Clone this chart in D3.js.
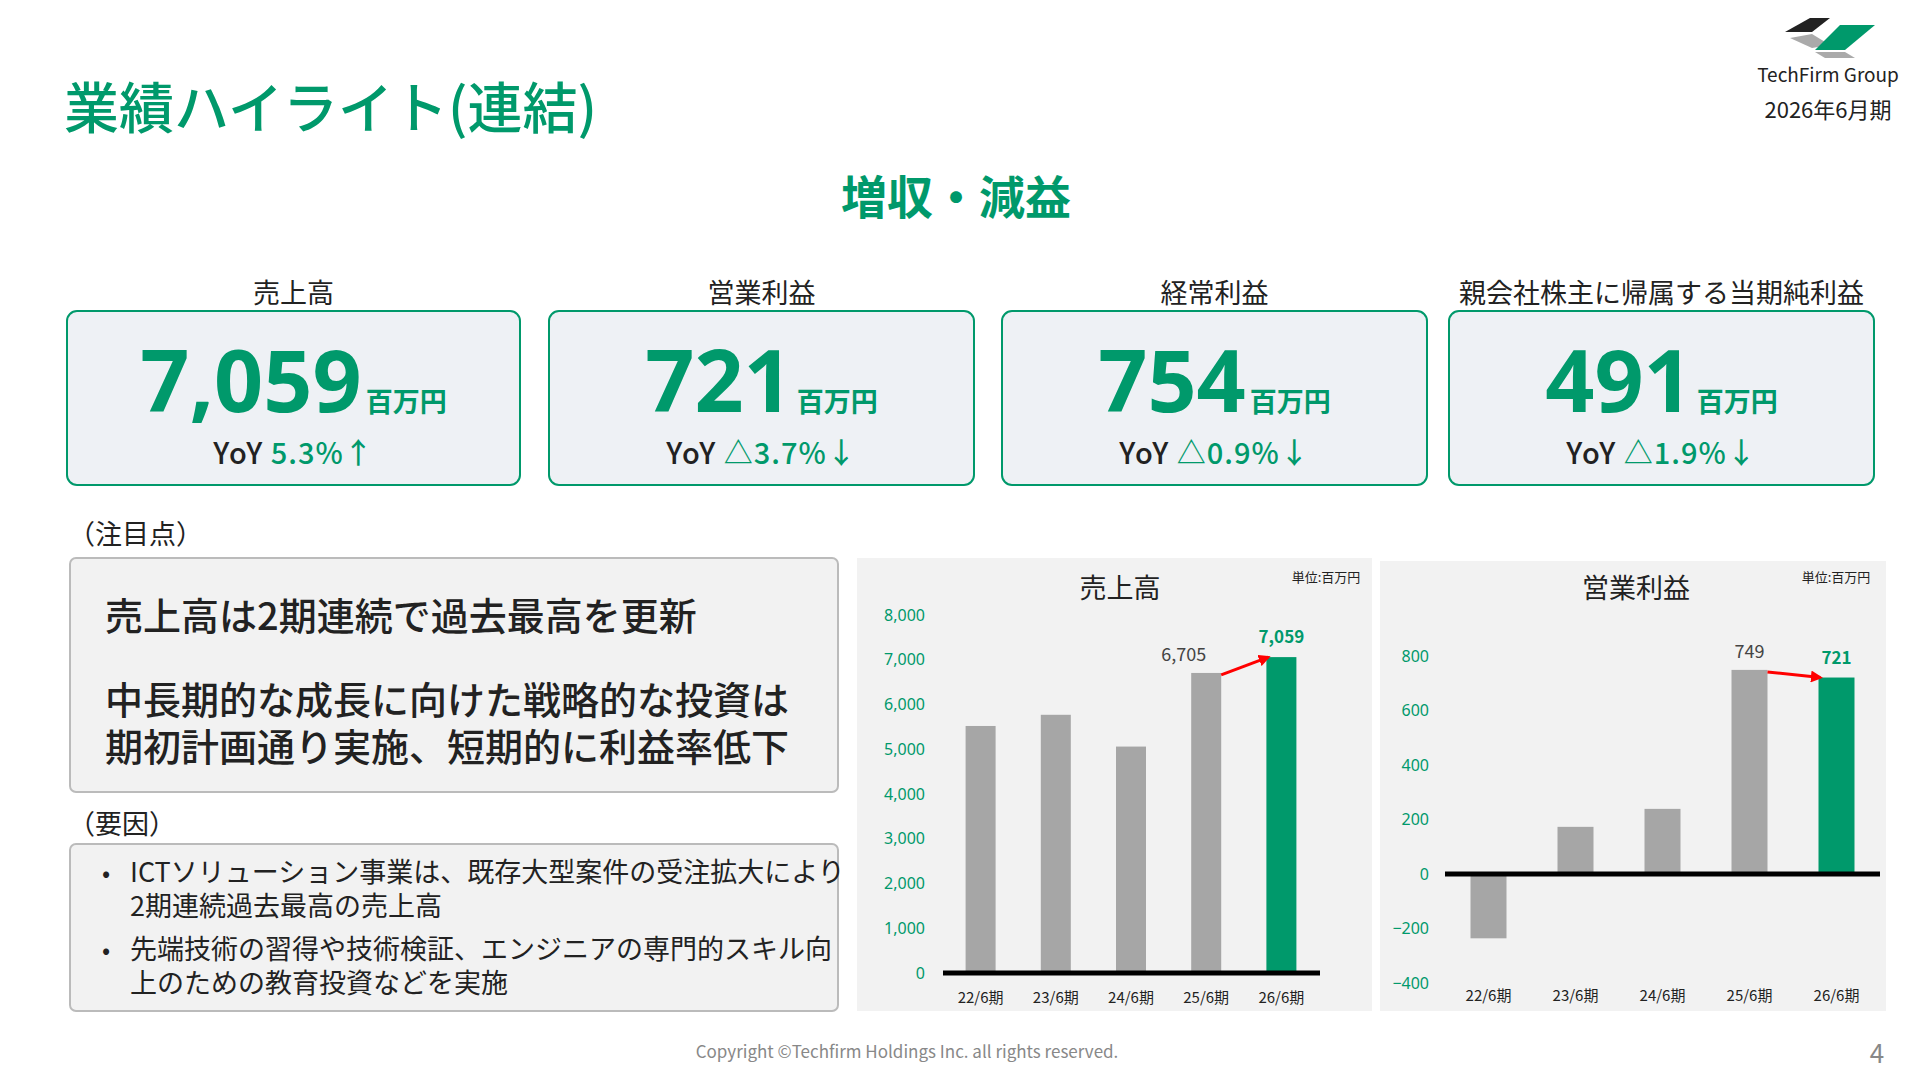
<!DOCTYPE html>
<html><head><meta charset="utf-8">
<script src="https://cdn.jsdelivr.net/npm/d3@7"></script>
<style>body{margin:0;background:#fff}svg{font-family:"Noto Sans CJK JP","Noto Sans",sans-serif}</style>
</head><body>
<svg id="c" width="1920" height="1080"></svg>
<script>
// data
const periods = ["22/6期", "23/6期", "24/6期", "25/6期", "26/6期"];
const sales = [5520, 5770, 5060, 6705, 7059];
const opProfit = [-236, 173, 239, 749, 721];
const salesTicks = [0, 1000, 2000, 3000, 4000, 5000, 6000, 7000, 8000];
const opTicks = [-400, -200, 0, 200, 400, 600, 800];
const kpiLabels = ["売上高", "営業利益", "経常利益", "親会社株主に帰属する当期純利益"];
const kpiValues = ["7,059", "721", "754", "491"];
const kpiYoY = ["5.3%↑", "△3.7%↓", "△0.9%↓", "△1.9%↓"];
const points = ["売上高は2期連続で過去最高を更新", "", "中長期的な成長に向けた戦略的な投資は", "期初計画通り実施、短期的に利益率低下"];
const factors = [["ICTソリューション事業は、既存大型案件の受注拡大により", "2期連続過去最高の売上高"], ["先端技術の習得や技術検証、エンジニアの専門的スキル向", "上のための教育投資などを実施"]];

const G = "#00996b", svg = d3.select("#c");

svg.append("text").attr("x", 64).attr("y", 128).attr("font-size", 55).attr("font-weight", 500)
  .attr("fill", G).text("業績ハイライト(連結)");
// logo
svg.append("path").attr("d", "M1810,18 L1830,18 L1812,32 L1785,32 Z").attr("fill", "#222");
svg.append("path").attr("d", "M1790,38 L1812,34 L1830,45 L1812,48 Z").attr("fill", "#aaa");
svg.append("path").attr("d", "M1840,25 L1875,25 L1845,50 L1815,50 Z").attr("fill", G);
svg.append("path").attr("d", "M1815,52 L1845,52 L1855,58 L1825,58 Z").attr("fill", "#aaa");
svg.append("text").attr("x", 1828).attr("y", 82).attr("text-anchor", "middle").attr("font-size", 19).attr("fill", "#222").text("TechFirm Group");
svg.append("text").attr("x", 1828).attr("y", 118).attr("text-anchor", "middle").attr("font-size", 22).attr("fill", "#222").text("2026年6月期");

svg.append("text").attr("x", 956).attr("y", 214).attr("text-anchor", "middle").attr("font-size", 46).attr("font-weight", 700).attr("fill", G).text("増収・減益");

// KPI boxes
const boxX = [67, 549, 1002, 1449], boxW = [453, 425, 425, 425];
kpiLabels.forEach((l, i) => {
  const cx = boxX[i] + boxW[i] / 2;
  svg.append("text").attr("x", cx).attr("y", 303).attr("text-anchor", "middle").attr("font-size", 27).attr("fill", "#222").text(l);
  svg.append("rect").attr("x", boxX[i]).attr("y", 311).attr("width", boxW[i]).attr("height", 174).attr("rx", 10)
    .attr("fill", "#eef1f5").attr("stroke", G).attr("stroke-width", 2);
  const t = svg.append("text").attr("x", cx).attr("y", 412).attr("text-anchor", "middle").attr("fill", G).attr("font-weight", 700);
  t.append("tspan").attr("font-size", 86).attr("font-family", "'Noto Sans',sans-serif").text(kpiValues[i]);
  t.append("tspan").attr("font-size", 27).attr("dx", 4).text("百万円");
  const y = svg.append("text").attr("x", cx).attr("y", 464).attr("text-anchor", "middle").attr("font-size", 29).attr("font-weight", 500).attr("letter-spacing", 1);
  y.append("tspan").attr("fill", "#222").text("YoY ");
  y.append("tspan").attr("fill", G).text(kpiYoY[i]);
});

// notes
svg.append("text").attr("x", 68).attr("y", 544).attr("font-size", 27).attr("fill", "#222").text("（注目点）");
svg.append("rect").attr("x", 70).attr("y", 558).attr("width", 768).attr("height", 234).attr("rx", 6).attr("fill", "#f2f2f2").attr("stroke", "#bbb").attr("stroke-width", 2);
[630, 0, 714, 761].forEach((y, i) => { if (points[i]) svg.append("text").attr("x", 105).attr("y", y).attr("font-size", 38).attr("font-weight", 500).attr("fill", "#222").text(points[i]); });
svg.append("text").attr("x", 68).attr("y", 834).attr("font-size", 27).attr("fill", "#222").text("（要因）");
svg.append("rect").attr("x", 70).attr("y", 844).attr("width", 768).attr("height", 167).attr("rx", 6).attr("fill", "#f2f2f2").attr("stroke", "#bbb").attr("stroke-width", 2);
factors.forEach((f, i) => {
  const y0 = 882 + i * 77;
  svg.append("text").attr("x", 102).attr("y", y0).attr("font-size", 24).attr("fill", "#222").text("•");
  f.forEach((s, j) => svg.append("text").attr("x", 130).attr("y", y0 + j * 34).attr("font-size", 27).attr("fill", "#222").text(s));
});

function chart(o) {
  svg.append("rect").attr("x", o.px).attr("y", o.py).attr("width", o.pw).attr("height", o.ph).attr("fill", "#f2f2f2");
  svg.append("text").attr("x", o.tx).attr("y", 598).attr("text-anchor", "middle").attr("font-size", 27).attr("fill", "#222").text(o.title);
  svg.append("text").attr("x", o.ux).attr("y", 582).attr("text-anchor", "middle").attr("font-size", 13).attr("fill", "#222").text("単位:百万円");
  const x = d3.scaleBand().domain(periods).range(o.xr).paddingInner(o.pad).paddingOuter(o.pad / 2);
  const y = d3.scaleLinear().domain(o.dom).range(o.yr);
  const ax = svg.append("g").attr("transform", `translate(${o.axX},0)`).call(d3.axisLeft(y).tickValues(o.ticks).tickFormat(d3.format(",")).tickSize(0).tickPadding(0));
  ax.select(".domain").remove();
  ax.selectAll("text").attr("fill", G).attr("font-size", 16).attr("font-family", "'Noto Sans',sans-serif");
  svg.selectAll(null).data(o.vals).enter().append("rect")
    .attr("x", (d, i) => x(periods[i]) + (x.bandwidth() - o.bw) / 2).attr("width", o.bw)
    .attr("y", d => y(Math.max(0, d))).attr("height", d => Math.abs(y(d) - y(0)))
    .attr("fill", (d, i) => i === 4 ? G : "#a6a6a6");
  svg.append("line").attr("x1", o.lx[0]).attr("x2", o.lx[1]).attr("y1", y(0)).attr("y2", y(0)).attr("stroke", "#000").attr("stroke-width", 5);
  svg.selectAll(null).data(periods).enter().append("text").attr("x", d => x(d) + x.bandwidth() / 2).attr("y", o.xly)
    .attr("text-anchor", "middle").attr("font-size", 15).attr("fill", "#222").text(d => d);
  const c = i => x(periods[i]) + x.bandwidth() / 2;
  svg.append("text").attr("x", c(3)).attr("y", y(o.vals[3]) - 12).attr("text-anchor", o.lblAnchor).attr("dx", o.lblDx).attr("font-size", 18).attr("fill", "#444").text(d3.format(",")(o.vals[3]));
  svg.append("text").attr("x", c(4)).attr("y", y(o.vals[4]) - 14).attr("text-anchor", "middle").attr("font-size", 17).attr("font-weight", 700).attr("fill", G).text(d3.format(",")(o.vals[4]));
  const x1 = c(3) + o.bw / 2, y1 = y(o.vals[3]) + 2, x2 = c(4) - o.bw / 2 + 2, y2 = y(o.vals[4]) + o.aoff;
  svg.append("line").attr("x1", x1).attr("y1", y1).attr("x2", x2).attr("y2", y2).attr("stroke", "red").attr("stroke-width", 3).attr("marker-end", "url(#ah)");
}
svg.append("defs").append("marker").attr("id", "ah").attr("viewBox", "0 0 10 10").attr("refX", 8).attr("refY", 5)
  .attr("markerWidth", 4).attr("markerHeight", 4).attr("orient", "auto").append("path").attr("d", "M0,0L10,5L0,10Z").attr("fill", "red");

chart({ px: 857, py: 558, pw: 515, ph: 453, title: "売上高", tx: 1120, ux: 1326, xr: [943, 1319], pad: 0.6, bw: 30,
  dom: [0, 8000], yr: [973, 615], ticks: salesTicks, axX: 925, vals: sales, lx: [943, 1320], xly: 1003, lblAnchor: "end", lblDx: 0, aoff: 0 });
chart({ px: 1380, py: 561, pw: 506, ph: 450, title: "営業利益", tx: 1636, ux: 1836, xr: [1445, 1880], pad: 0.58, bw: 36,
  dom: [-400, 800], yr: [983, 656], ticks: opTicks, axX: 1429, vals: opProfit, lx: [1445, 1880], xly: 1001, lblAnchor: "middle", lblDx: 0, aoff: 0 });

svg.append("text").attr("x", 907).attr("y", 1058).attr("text-anchor", "middle").attr("font-size", 17).attr("fill", "#888").text("Copyright ©Techfirm Holdings Inc. all rights reserved.");
svg.append("text").attr("x", 1877).attr("y", 1063).attr("text-anchor", "middle").attr("font-size", 26).attr("fill", "#888").text("4");
</script>
</body></html>
